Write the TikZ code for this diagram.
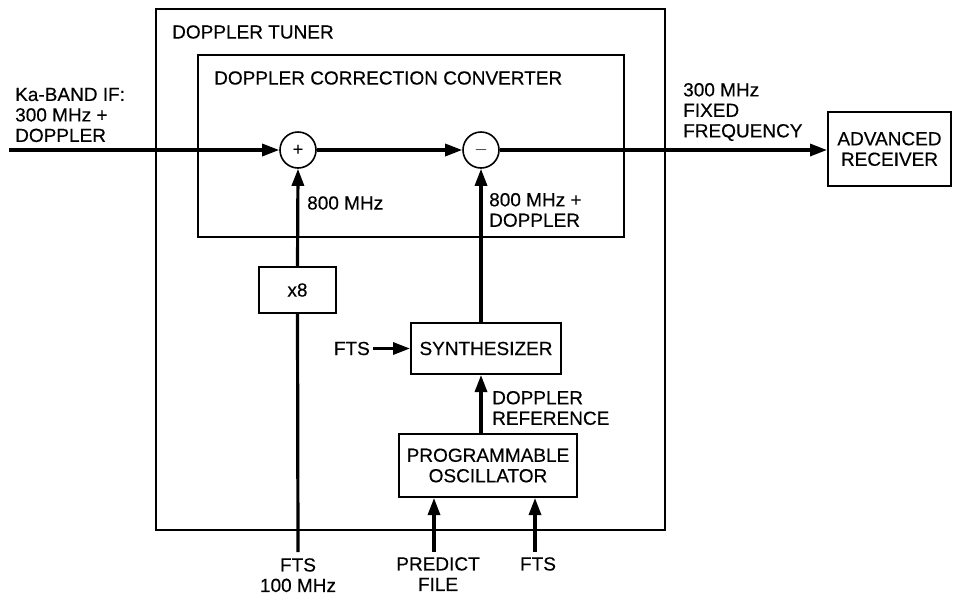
\documentclass[tikz,border=0pt]{standalone}
\usepackage{fontspec}
\setmainfont[FakeBold=0.35]{Liberation Sans}
\usetikzlibrary{arrows.meta}
\begin{document}
\begin{tikzpicture}[x=1pt,y=-1pt,
  lbl/.style={inner sep=0pt, font=\fontsize{19}{20.5}\selectfont, align=left},
  blk/.style={draw, line width=2pt, inner sep=0pt, font=\fontsize{19}{20.5}\selectfont, align=center},
  frame/.style={draw, line width=1.6pt, inner sep=0pt},
  sumc/.style={draw, circle, line width=1.6pt, minimum size=36pt, inner sep=0pt, font=\fontsize{18}{18}\selectfont},
  sig/.style={line width=3.2pt, -{Triangle[length=17pt,width=12pt]}},
  wire/.style={line width=3.2pt}]
\useasboundingbox (0,0) rectangle (953,598);
% frames
\node[frame, minimum width=509pt, minimum height=521pt] (tuner) at (410.5,269.5) {};
\node[frame, line width=2pt, minimum width=426pt, minimum height=182pt] (conv) at (411,146) {};
\node[lbl, anchor=west] (tunerlbl) at (172,32) {DOPPLER TUNER};
\node[lbl, anchor=west] (convlbl) at (214,78) {DOPPLER CORRECTION CONVERTER};
% blocks
\node[sumc] (plus) at (298,150) {+};
\node[sumc] (minus) at (481,150) {$-$};
\node[blk, minimum width=77pt, minimum height=46pt] (x8) at (297.5,290) {x8};
\node[blk, minimum width=150pt, minimum height=51pt] (synth) at (486,348.5) {SYNTHESIZER};
\node[blk, minimum width=178pt, minimum height=63pt] (po) at (488,465.5) {PROGRAMMABLE\\OSCILLATOR};
\node[blk, minimum width=123pt, minimum height=74pt] (adv) at (889.5,149) {ADVANCED\\RECEIVER};
% labels
\node[lbl, anchor=west] (kalbl) at (15,115) {Ka-BAND IF:\\300 MHz +\\DOPPLER};
\node[lbl, anchor=west] (outlbl) at (683,112) {300 MHz\\FIXED\\FREQUENCY};
\node[lbl, anchor=west] (m800) at (307,203) {800 MHz};
\node[lbl, anchor=west] (m800d) at (489,210) {800 MHz +\\DOPPLER};
\node[lbl, anchor=west] (dref) at (492,408) {DOPPLER\\REFERENCE};
\node[lbl, anchor=east] (ftsl) at (370,348.5) {FTS};
\node[lbl, anchor=north, align=center] (fts100) at (298,558) {FTS\\100 MHz};
\node[lbl, anchor=north, align=center] (pf) at (438,557) {PREDICT\\FILE};
\node[lbl, anchor=north, align=center] (fts2) at (538,557) {FTS};
% endpoints
\coordinate (in) at (9,150);
\coordinate (fts100top) at (298,552);
\coordinate (pfin) at (434,552);
\coordinate (fts2in) at (535,552);
% connectors
\draw[sig] (in) -- (plus.west);
\draw[sig] (plus.east) -- (minus.west);
\draw[sig] (minus.east) -- (adv.west |- minus.east);
\draw[wire] (fts100top) -- (x8.south);
\draw[sig] (x8.north) -- (plus.south);
\draw[sig] (synth.north -| minus.south) -- (minus.south);
\draw[sig] ([xshift=3pt]ftsl.east) -- (ftsl.east -| synth.west);
\draw[sig] (po.north -| minus.south) -- (synth.south -| minus.south);
\draw[sig] (pfin) -- (pfin |- po.south);
\draw[sig] (fts2in) -- (fts2in |- po.south);
\end{tikzpicture}
\end{document}
